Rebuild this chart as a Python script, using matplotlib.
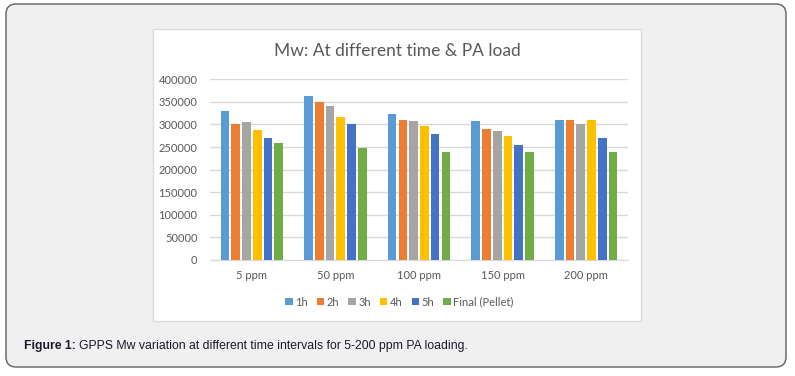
import numpy as np
import matplotlib
matplotlib.use('Agg')
from matplotlib import pyplot as plt
from matplotlib.patches import FancyBboxPatch, Rectangle

# данные
categories = ['5 ppm', '50 ppm', '100 ppm', '150 ppm', '200 ppm']
series_names = ['1h', '2h', '3h', '4h', '5h', 'Final (Pellet)']
mw_1h = [330000, 364000, 323000, 307000, 310000]
mw_2h = [300000, 350000, 311000, 289000, 310000]
mw_3h = [305000, 341000, 307000, 285000, 300000]
mw_4h = [287000, 316000, 296000, 274000, 310000]
mw_5h = [271000, 300000, 280000, 255000, 269000]
mw_final = [260000, 249000, 240000, 238000, 238000]
colors = ['#5B9BD5', '#ED7D31', '#A5A5A5', '#FFC000', '#4472C4', '#70AD47']

W, H = 795, 376
fig = plt.figure(figsize=(W / 100, H / 100), dpi=100)
fig.patch.set_facecolor('white')

# фон: рамка с закруглёнными углами и белая панель графика
bg = fig.add_axes([0, 0, 1, 1], zorder=-1)
bg.set_xlim(0, W)
bg.set_ylim(H, 0)
bg.axis('off')
bg.add_patch(FancyBboxPatch((6, 4), 780, 363, boxstyle='round,pad=0,rounding_size=10',
                            facecolor='#f0f0f0', edgecolor='#606060', linewidth=1.0))
bg.add_patch(Rectangle((153, 29), 488, 292, facecolor='white', edgecolor='#dcdcdc', linewidth=1.0))

# подпись рисунка
caption_font = ['Liberation Sans', 'DejaVu Sans']
t1 = bg.text(24, 346, 'Figure 1:', fontsize=8.8, fontweight='bold', color='#1a1a2e',
             family=caption_font, va='center', ha='left')
renderer = fig.canvas.get_renderer()
x_end = t1.get_window_extent(renderer).x1
bg.text(x_end + 3, 346, 'GPPS Mw variation at different time intervals for 5-200 ppm PA loading.',
        fontsize=8.8, color='#1a1a2e', family=caption_font, va='center', ha='left')

# график
ax = fig.add_axes([210 / W, 1 - 260 / H, 418 / W, (260 - 79.3) / H])
all_series = [mw_1h, mw_2h, mw_3h, mw_4h, mw_5h, mw_final]
x = np.arange(len(categories))
slot = 0.129
for i, (vals, name, c) in enumerate(zip(all_series, series_names, colors)):
    ax.bar(x + (i - 2.5) * slot, vals, width=slot * 0.8, color=c, label=name, zorder=3)

ax.set_xlim(-0.5, len(categories) - 0.5)
ax.set_ylim(0, 400000)
ax.set_yticks(np.arange(0, 400001, 50000))
ax.set_yticklabels([str(v) for v in range(0, 400001, 50000)])
ax.set_xticks(x)
ax.set_xticklabels(categories)
ax.grid(axis='y', color='#d9d9d9', linewidth=1.0, zorder=0)
for s in ['top', 'right', 'left']:
    ax.spines[s].set_visible(False)
ax.spines['bottom'].set_color('#d9d9d9')
ax.tick_params(axis='both', length=0, labelsize=8, labelcolor='#595959')
ax.tick_params(axis='y', pad=9)
ax.tick_params(axis='x', pad=7)
for lbl in ax.get_xticklabels() + ax.get_yticklabels():
    lbl.set_family(['Lato', 'DejaVu Sans'])

fig.text(397 / W, 1 - 51.5 / H, 'Mw: At different time & PA load', fontsize=12.5,
         color='#595959', ha='center', va='center', family=['Lato', 'DejaVu Sans'])

leg = ax.legend(loc='center', bbox_to_anchor=(399.5 / W, 1 - 302 / H), bbox_transform=fig.transFigure,
                ncol=6, frameon=False, handlelength=0.65, handleheight=0.65,
                handletextpad=0.25, columnspacing=0.8, prop={'family': ['Lato', 'DejaVu Sans'], 'size': 8})
for t in leg.get_texts():
    t.set_color('#595959')

fig.savefig('out.png', dpi=100)
